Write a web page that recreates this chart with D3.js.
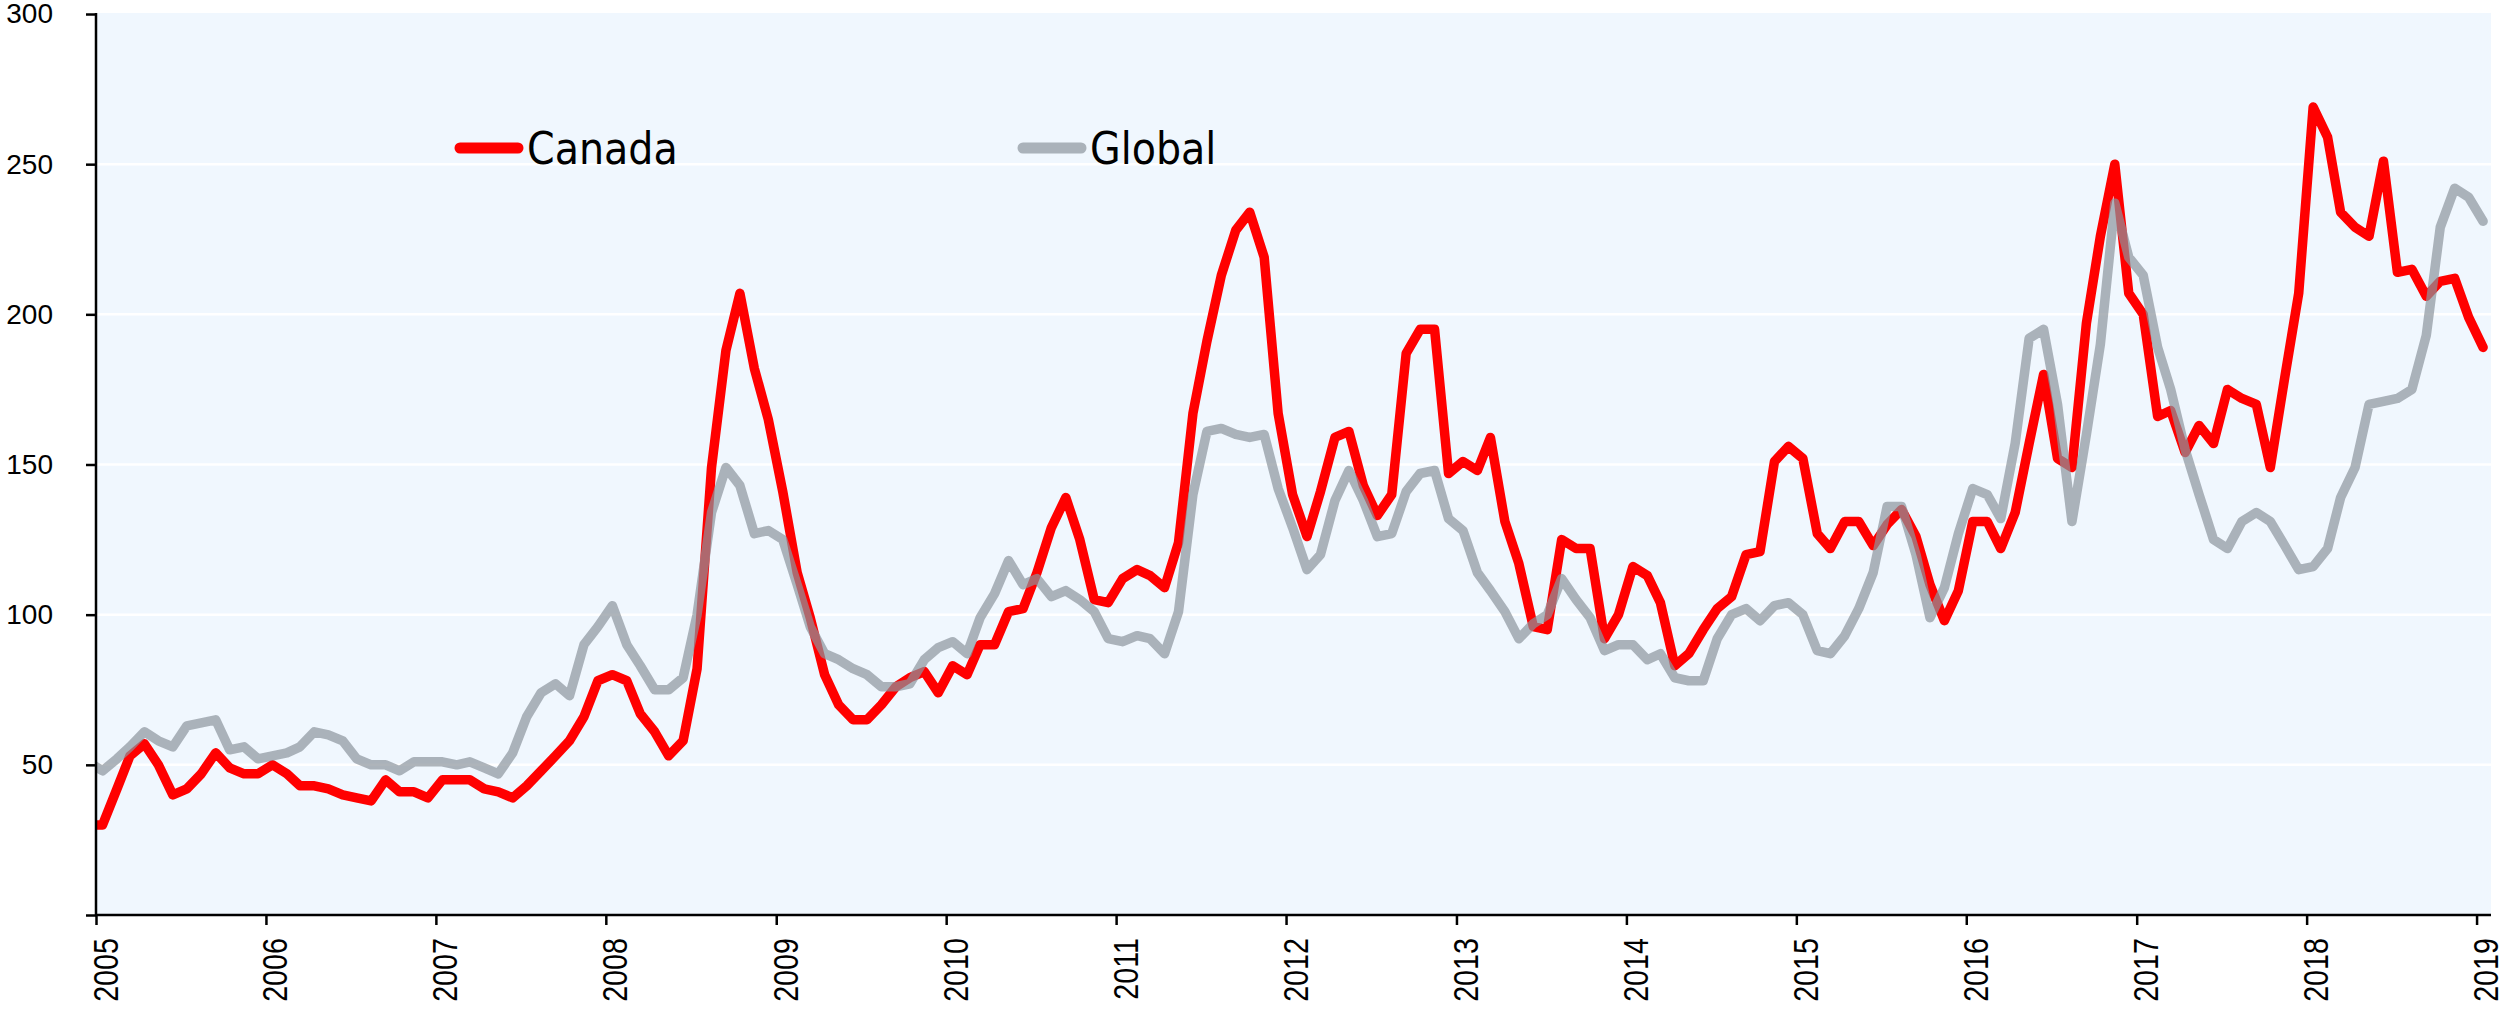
<!DOCTYPE html>
<html>
<head>
<meta charset="utf-8">
<script src="https://cdn.jsdelivr.net/npm/d3@7"></script>
<style>
  body { margin: 0; background: #ffffff; }
</style>
</head>
<body>
<script>
// monthly values, Dec 2004 .. Jan 2019 (Dec 2004 sits left of the axis and gets clipped)
var firstMonth = new Date(2004, 11, 1);
var lastMonth = new Date(2019, 0, 1);

var canada = [30,
  30, 42, 53, 57, 50, 40, 42, 47, 54, 49, 47, 47,
  50, 47, 43, 43, 42, 40, 39, 38, 45, 41, 41, 39,
  45, 45, 45, 42, 41, 39, 43, 48, 53, 58, 66, 78,
  80, 78, 67, 61, 53, 58, 82, 149, 188, 207, 182, 165,
  141, 114, 99, 80, 70, 65, 65, 70, 76, 79, 81, 74,
  83, 80, 90, 90, 101, 102, 114, 129, 139, 125, 105, 104,
  112, 115, 113, 109, 124, 167, 191, 213, 228, 234, 219, 167,
  140, 126, 141, 159, 161, 143, 133, 140, 187, 195, 195, 147,
  151, 148, 159, 131, 117, 96, 95, 125, 122, 122, 92, 100,
  116, 113, 104, 83, 87, 95, 102, 106, 120, 121, 151, 156,
  152, 127, 122, 131, 131, 123, 130, 135, 126, 110, 98, 108,
  131, 131, 122, 134, 157, 180, 152, 149, 197, 226, 250, 207,
  200, 166, 168, 154, 163, 157, 175, 172, 170, 149, 179, 207,
  269, 259, 234, 229, 226, 251, 214, 215, 206, 211, 212, 199,
  189];

var global = [51,
  48, 52, 56, 61, 58, 56, 63, 64, 65, 55, 56, 52,
  53, 54, 56, 61, 60, 58, 52, 50, 50, 48, 51, 51,
  51, 50, 51, 49, 47, 54, 66, 74, 77, 73, 90, 96,
  103, 90, 83, 75, 75, 79, 100, 134, 149, 143, 127, 128,
  125, 110, 96, 87, 85, 82, 80, 76, 76, 77, 85, 89,
  91, 87, 99, 107, 118, 110, 112, 106, 108, 105, 101, 92,
  91, 93, 92, 87, 101, 140, 161, 162, 160, 159, 160, 142,
  129, 115, 120, 138, 148, 138, 126, 127, 141, 147, 148, 132,
  128, 114, 108, 101, 92, 97, 100, 112, 105, 99, 88, 90,
  90, 85, 87, 79, 78, 78, 92, 100, 102, 98, 103, 104,
  100, 88, 87, 93, 102, 114, 136, 136, 120, 99, 109, 127,
  142, 140, 132, 157, 192, 195, 170, 131, 160, 190, 237, 219,
  213, 189, 175, 155, 140, 125, 122, 131, 134, 131, 123, 115,
  116, 122, 139, 149, 170, 171, 172, 175, 193, 229, 242, 239,
  231];

var yTicks = [0, 50, 100, 150, 200, 250, 300];
var xTicks = ["2005", "2006", "2007", "2008", "2009", "2010", "2011", "2012",
              "2013", "2014", "2015", "2016", "2017", "2018", "2019"];

// points sit in the middle of their month
var months = d3.timeMonth.range(firstMonth, d3.timeMonth.offset(lastMonth, 1))
  .map(function (d) { return new Date(d.getFullYear(), d.getMonth(), 15); });

var margin = {top: 14, right: 2491, bottom: 915, left: 96}; // plot edges in pixels
var width = 2502, height = 1013;

var svg = d3.select("body")
  .append("svg")
  .attr("width", width)
  .attr("height", height);

var xscale = d3.scaleTime()
  .domain([new Date(2005, 0, 1), new Date(2019, 1, 1)])
  .range([margin.left, margin.right]);

var yscale = d3.scaleLinear()
  .domain([0, 300])
  .range([margin.bottom, margin.top]);

// plot background
svg.append("rect")
  .attr("x", margin.left)
  .attr("y", margin.top - 1)
  .attr("width", margin.right - margin.left)
  .attr("height", margin.bottom - margin.top + 1)
  .attr("fill", "#f0f7fe");

// white gridlines
svg.append("g")
  .selectAll("line")
  .data(yTicks.slice(1, -1))
  .enter()
  .append("line")
  .attr("x1", margin.left)
  .attr("x2", margin.right)
  .attr("y1", d => yscale(d))
  .attr("y2", d => yscale(d))
  .attr("stroke", "#ffffff")
  .attr("stroke-width", 2.5);

svg.append("clipPath")
  .attr("id", "plot")
  .append("rect")
  .attr("x", margin.left + 1)
  .attr("y", 0)
  .attr("width", margin.right - margin.left)
  .attr("height", margin.bottom);

var line = d3.line()
  .x((d, i) => xscale(months[i]))
  .y(d => yscale(d));

var lines = svg.append("g").attr("clip-path", "url(#plot)");

lines.append("path")
  .datum(canada)
  .attr("d", line)
  .attr("fill", "none")
  .attr("stroke", "#ff0000")
  .attr("stroke-width", 9.5)
  .attr("stroke-linejoin", "round")
  .attr("stroke-linecap", "round");

lines.append("path")
  .datum(global)
  .attr("d", line)
  .attr("fill", "none")
  .attr("stroke", "#8c949c")
  .attr("stroke-opacity", 0.7)
  .attr("stroke-width", 9.5)
  .attr("stroke-linejoin", "round")
  .attr("stroke-linecap", "round");

// y axis
var yaxis = svg.append("g")
  .attr("transform", "translate(" + margin.left + ",0)")
  .call(d3.axisLeft(yscale)
    .tickValues(yTicks)
    .tickSize(10)
    .tickPadding(33)
    .tickFormat(d => d === 0 ? "" : d));
yaxis.select(".domain").attr("d", "M0," + (margin.top - 1) + "V" + (margin.bottom + 1)).attr("stroke-width", 2.5);
yaxis.selectAll(".tick line").attr("stroke-width", 2.5);
yaxis.selectAll("text")
  .attr("font-family", "'Liberation Sans', Arial, sans-serif")
  .attr("font-size", 28)
  .attr("fill", "#000");

// x axis
var xaxis = svg.append("g")
  .attr("transform", "translate(0," + margin.bottom + ")")
  .call(d3.axisBottom(xscale)
    .tickValues(xTicks.map(y => new Date(+y, 0, 1)))
    .tickSize(10)
    .tickSizeOuter(0)
    .tickFormat(""));
xaxis.select(".domain").attr("d", "M" + (margin.left - 1) + ",0H" + margin.right).attr("stroke-width", 2.5);
xaxis.selectAll(".tick line").attr("stroke-width", 2.5);
xaxis.selectAll(".tick")
  .append("text")
  .text((d, i) => xTicks[i])
  .attr("transform", "translate(21,23) rotate(-90) scale(0.82,1)")
  .attr("text-anchor", "end")
  .attr("font-family", "'Liberation Sans', Arial, sans-serif")
  .attr("font-size", 35)
  .attr("fill", "#000");

// legend
var legend = [
  {name: "Canada", color: "#ff0000", opacity: 1, x: 460},
  {name: "Global", color: "#8c949c", opacity: 0.7, x: 1023}
];
var lg = svg.selectAll(".legend")
  .data(legend)
  .enter()
  .append("g")
  .attr("transform", d => "translate(" + d.x + ",148)");
lg.append("line")
  .attr("x1", 0)
  .attr("x2", 58)
  .attr("stroke", d => d.color)
  .attr("stroke-opacity", d => d.opacity)
  .attr("stroke-width", 11)
  .attr("stroke-linecap", "round");
lg.append("text")
  .text(d => d.name)
  .attr("x", 67)
  .attr("y", 16)
  .attr("font-family", "'DejaVu Sans Condensed', 'DejaVu Sans', sans-serif")
  .style("font-stretch", "condensed")
  .attr("font-size", 44)
  .attr("fill", "#000");
</script>
</body>
</html>
